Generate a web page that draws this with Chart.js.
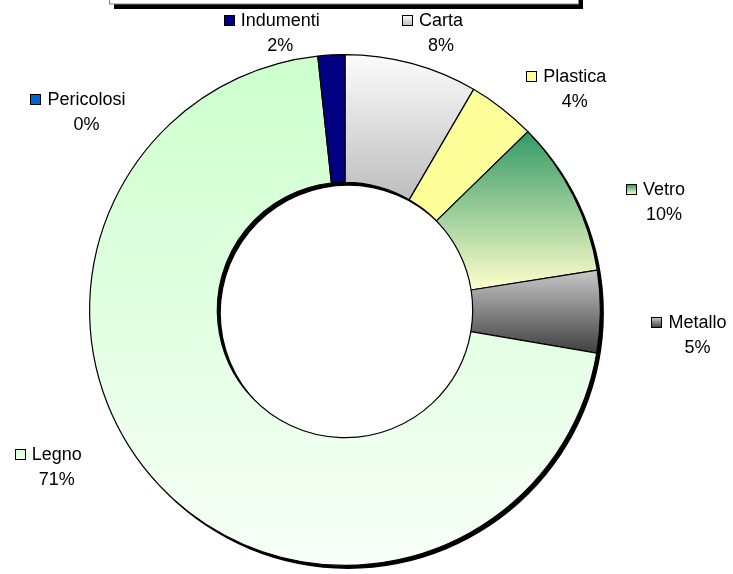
<!DOCTYPE html>
<html>
<head>
<meta charset="utf-8">
<script src="https://cdn.jsdelivr.net/npm/chart.js@4/dist/chart.umd.min.js"></script>
<style>
  html, body { margin: 0; padding: 0; background: #ffffff; }
  #wrap { position: relative; width: 733px; height: 574px; }
</style>
</head>
<body>
<div id="wrap"><canvas id="c" width="733" height="574"></canvas></div>
<script>
// ---- data ----
const categories = ['Carta', 'Plastica', 'Vetro', 'Metallo', 'Legno', 'Pericolosi', 'Indumenti'];
const shares = [8.4, 4.3, 9.8, 5.2, 70.6, 0, 1.7];

// ---- style ----
const fillStops = [
  ['#FCFCFC', '#BDBDBD'],   // Carta
  ['#FFFF99', '#FFFF99'],   // Plastica
  ['#339966', '#FFFFCC'],   // Vetro
  ['#C8C8C8', '#404040'],   // Metallo
  ['#CCFFCC', '#F8FFF8'],   // Legno
  ['#0066CC', '#0066CC'],   // Pericolosi
  ['#000080', '#000080']    // Indumenti
];
const labelNudge = [[19, 7], [48, 11], [55, 23], [57, 22], [-73, -46], [-227, 95], [-49, 17]];
const FONT = '18px "Liberation Sans", Arial, sans-serif';

function sectorGradient(ctx, cx, cy, r0, r1, a0, a1, stops) {
  let minY = Infinity, maxY = -Infinity;
  const n = 60;
  for (let k = 0; k <= n; k++) {
    const a = a0 + (a1 - a0) * k / n;
    for (const r of [r0, r1]) {
      const y = cy + Math.sin(a) * r;
      if (y < minY) minY = y;
      if (y > maxY) maxY = y;
    }
  }
  if (!(maxY > minY)) { minY = cy - r1; maxY = cy + r1; }
  const g = ctx.createLinearGradient(0, minY, 0, maxY);
  g.addColorStop(0, stops[0]);
  g.addColorStop(1, stops[1]);
  return g;
}

function bgColor(context) {
  const i = context.dataIndex;
  const chart = context.chart;
  const area = chart.chartArea;
  const stops = fillStops[i];
  if (!area) return stops[0];
  const total = shares.reduce((a, b) => a + b, 0);
  let before = 0;
  for (let k = 0; k < i; k++) before += shares[k];
  const a0 = -Math.PI / 2 + before / total * 2 * Math.PI;
  const a1 = a0 + shares[i] / total * 2 * Math.PI;
  const cx = (area.left + area.right) / 2, cy = (area.top + area.bottom) / 2;
  const R = Math.min(area.right - area.left, area.bottom - area.top) / 2;
  return sectorGradient(chart.ctx, cx, cy, R * 0.5, R, a0, a1, stops);
}

// Shadow ring under the doughnut + cut-off title box at the top
const shadowPlugin = {
  id: 'shadowRing',
  beforeDatasetsDraw(chart) {
    const meta = chart.getDatasetMeta(0);
    const el = meta.data[0];
    if (!el) return;
    const p = el.getProps(['x', 'y', 'outerRadius', 'innerRadius'], true);
    const ctx = chart.ctx;
    ctx.save();
    ctx.fillStyle = '#000000';
    ctx.beginPath();
    ctx.arc(p.x + 3, p.y + 3, p.outerRadius + 0.5, 0, Math.PI * 2, false);
    ctx.arc(p.x + 3, p.y + 3, p.innerRadius - 0.5, 0, Math.PI * 2, true);
    ctx.fill('evenodd');
    ctx.restore();
  },
  beforeDraw(chart) {
    const ctx = chart.ctx;
    ctx.save();
    ctx.fillStyle = '#000000';
    ctx.fillRect(114, -10, 469, 19);
    ctx.fillStyle = '#ffffff';
    ctx.fillRect(109, -15, 469, 19);
    ctx.strokeStyle = '#808080';
    ctx.lineWidth = 1;
    ctx.strokeRect(109.5, -15, 469, 19);
    ctx.restore();
  }
};

const labelPlugin = {
  id: 'sliceLabels',
  afterDatasetsDraw(chart) {
    const meta = chart.getDatasetMeta(0);
    const ctx = chart.ctx;
    const total = shares.reduce((a, b) => a + b, 0);
    ctx.save();
    ctx.font = FONT;
    ctx.fillStyle = '#000000';
    ctx.textBaseline = 'alphabetic';
    meta.data.forEach((el, i) => {
      const p = el.getProps(['x', 'y', 'startAngle', 'endAngle', 'outerRadius'], true);
      const mid = (p.startAngle + p.endAngle) / 2;
      const dist = p.outerRadius + 40;
      const ax = p.x + Math.cos(mid) * dist + labelNudge[i][0];
      const ay = p.y + Math.sin(mid) * dist + labelNudge[i][1];
      const name = categories[i];
      const pct = Math.round(shares[i] / total * 100) + '%';
      const w = ctx.measureText(name).width;
      const base1 = ay - 6;
      const base2 = ay + 19;
      ctx.textAlign = 'center';
      ctx.fillStyle = '#000000';
      ctx.fillText(name, ax, base1);
      ctx.fillText(pct, ax, base2);
      // legend key square
      const sx = Math.round(ax - w / 2 - 17) + 0.5;
      const sy = Math.round(base1 - 11) + 0.5;
      const g = ctx.createLinearGradient(0, sy, 0, sy + 10);
      g.addColorStop(0, fillStops[i][0]);
      g.addColorStop(1, fillStops[i][1]);
      ctx.fillStyle = g;
      ctx.fillRect(sx, sy, 10, 10);
      ctx.strokeStyle = '#000000';
      ctx.lineWidth = 1;
      ctx.strokeRect(sx, sy, 10, 10);
    });
    ctx.restore();
  }
};

new Chart(document.getElementById('c'), {
  type: 'doughnut',
  data: {
    labels: categories,
    datasets: [{
      data: shares,
      backgroundColor: bgColor,
      borderColor: '#000000',
      borderWidth: 1.2,
      hoverOffset: 0
    }]
  },
  options: {
    responsive: false,
    animation: false,
    cutout: '50%',
    rotation: 0,
    layout: { padding: { left: 89, right: 132, top: 54, bottom: 8 } },
    plugins: {
      legend: { display: false },
      tooltip: { enabled: false },
      title: { display: false }
    }
  },
  plugins: [shadowPlugin, labelPlugin]
});
</script>
</body>
</html>
